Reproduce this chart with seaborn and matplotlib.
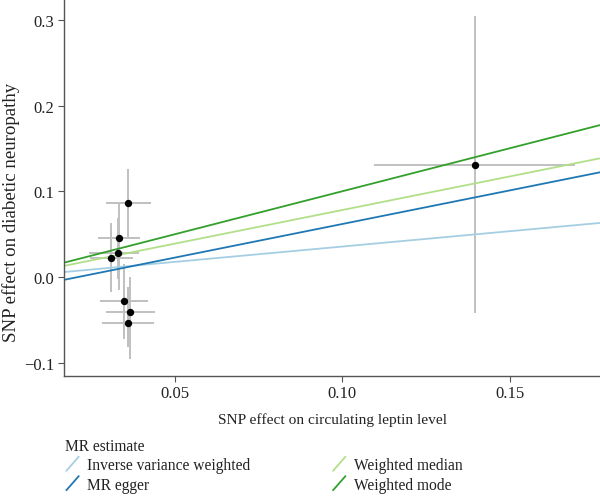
import numpy as np
import pandas as pd
import matplotlib
matplotlib.use("Agg")
import matplotlib.pyplot as plt
import seaborn as sns
from matplotlib.lines import Line2D
from matplotlib.legend_handler import HandlerLine2D

# SNP data
beta_exp = [0.0361, 0.0333, 0.0330, 0.0308, 0.0349, 0.0367, 0.0361, 0.1396]
beta_out = [0.0863, 0.0459, 0.0277, 0.0225, -0.0280, -0.0410, -0.0533, 0.1313]
exp_lo = [0.0294, 0.0271, 0.0244, 0.0246, 0.0278, 0.0293, 0.0284, 0.1094]
exp_hi = [0.0430, 0.0396, 0.0393, 0.0376, 0.0420, 0.0440, 0.0438, 0.1694]
out_lo = [0.0458, -0.0145, -0.0020, -0.0176, -0.0720, -0.0953, -0.0817, -0.0417]
out_hi = [0.1260, 0.0862, 0.0687, 0.0629, 0.0155, 0.0000, -0.0117, 0.3050]

# MR estimates
methods = ["Inverse variance weighted", "MR egger", "Weighted median", "Weighted mode"]
slopes = [0.358, 0.784, 0.784, 1.003]
intercepts = [0.0, -0.0163, 0.0, 0.0]
colors = ["#a6cee3", "#1f78b4", "#b2df8a", "#33a02c"]

x_ticks = [0.05, 0.10, 0.15]
x_tick_labels = ["0.05", "0.10", "0.15"]
y_ticks = [-0.1, 0.0, 0.1, 0.2, 0.3]
y_tick_labels = ["\u22120.1", "0.0", "0.1", "0.2", "0.3"]

sns.set_theme(style="white")
plt.rcParams['font.family'] = ['Liberation Serif', 'DejaVu Serif']

df = pd.DataFrame({"exp": beta_exp, "out": beta_out})

fig = plt.figure(figsize=(6.0, 5.02), dpi=100)
ax = fig.add_axes([64.3/600, 1 - 376.5/502, 1 - 64.3/600, 376.5/502])

ax.hlines(beta_out, exp_lo, exp_hi, color="#c0c0c0", lw=1.4, zorder=1)
ax.vlines(beta_exp, out_lo, out_hi, color="#c0c0c0", lw=1.4, zorder=1)

for m, s, b, c in zip(methods, slopes, intercepts, colors):
    ax.axline((0, b), slope=s, color=c, lw=1.3, zorder=2)

sns.scatterplot(data=df, x="exp", y="out", ax=ax, color="black", s=28,
                edgecolor="black", linewidth=0, zorder=3)

ax.set_xlim(0.0170, 0.1769)
ax.set_ylim(-0.1146, 0.3245)
ax.set_xticks(x_ticks)
ax.set_xticklabels(x_tick_labels)
ax.set_yticks(y_ticks)
ax.set_yticklabels(y_tick_labels)
ax.tick_params(axis="both", which="both", direction="out", length=4, width=0.8,
               color="#555555", labelsize=12, labelcolor="#222222", pad=3,
               bottom=True, left=True)
for side in ["top", "right"]:
    ax.spines[side].set_visible(False)
for side in ["left", "bottom"]:
    ax.spines[side].set_color("#555555")
    ax.spines[side].set_linewidth(1.0)

ax.set_xlabel("SNP effect on circulating leptin level", fontsize=11.1, color="#222222", labelpad=8)
ax.set_ylabel("SNP effect on diabetic neuropathy", fontsize=13.6, color="#222222")
ax.yaxis.set_label_coords(-(64.3 - 20) / (600 - 64.3), (376.5 - 212) / 376.5)


class DiagHandler(HandlerLine2D):
    def create_artists(self, legend, orig_handle, xdescent, ydescent, width, height, fontsize, trans):
        line = Line2D([xdescent + width*0.1, xdescent + width*0.9],
                      [-ydescent - height*0.15, -ydescent + height*1.15],
                      color=orig_handle.get_color(), lw=1.3, transform=trans)
        return [line]


handles = [Line2D([], [], color=c, lw=1.3) for c in colors]
leg = fig.legend(handles, methods, loc="upper left", bbox_to_anchor=(57/600, 1 - 431/502),
                 ncol=2, frameon=False, title="MR estimate", fontsize=11.2,
                 title_fontsize=11.2, handler_map={Line2D: DiagHandler()},
                 handlelength=1.0, handletextpad=0.45, columnspacing=5.2,
                 labelspacing=0.22, borderpad=0, alignment="left")
for t in leg.get_texts():
    t.set_color("#222222")
leg.get_title().set_color("#222222")

fig.savefig("out.png", dpi=100)
